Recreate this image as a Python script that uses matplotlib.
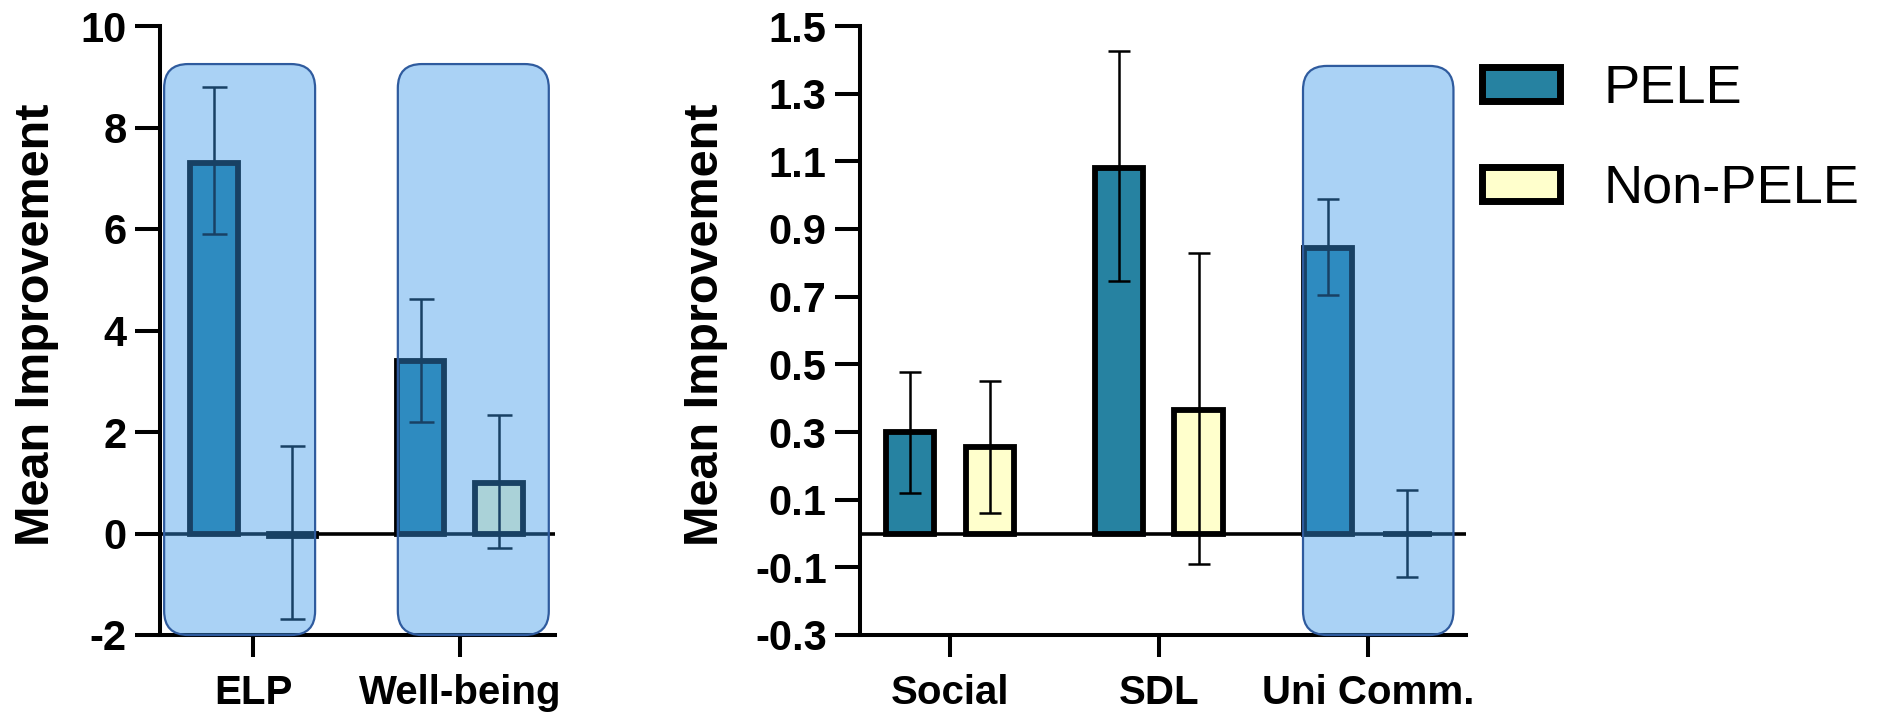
import numpy as np
import matplotlib
matplotlib.use("Agg")
import matplotlib.pyplot as plt
from matplotlib.patches import FancyBboxPatch, Patch

plt.rcParams["font.family"] = ["Liberation Sans", "DejaVu Sans"]

# data
left_groups = ["ELP", "Well-being"]
left_pele = [7.3, 3.4]
left_pele_lo = [5.9, 2.2]
left_pele_hi = [8.8, 4.62]
left_non = [-0.05, 1.0]
left_non_lo = [-1.68, -0.29]
left_non_hi = [1.72, 2.34]

right_groups = ["Social", "SDL", "Uni Comm."]
right_pele = [0.30, 1.08, 0.845]
right_pele_lo = [0.12, 0.745, 0.705]
right_pele_hi = [0.478, 1.425, 0.99]
right_non = [0.255, 0.365, 0.0]
right_non_lo = [0.06, -0.09, -0.13]
right_non_hi = [0.452, 0.83, 0.13]

left_yticks = [-2, 0, 2, 4, 6, 8, 10]
right_yticks = [-0.3, -0.1, 0.1, 0.3, 0.5, 0.7, 0.9, 1.1, 1.3, 1.5]

series_names = ["PELE", "Non-PELE"]

# styles
pele_color = "#2682A1"
non_color = "#FFFFCC"
hl_face = (0.227, 0.592, 0.914, 0.43)
hl_edge = "#2F5B9E"
bar_w = 0.23
offset = 0.19
spine_w = 2.9

fig = plt.figure(figsize=(18.8, 7.16), dpi=100)
ax1 = fig.add_axes([160 / 1880, 81 / 716, 395 / 1880, 609 / 716])
ax2 = fig.add_axes([860 / 1880, 81 / 716, 606 / 1880, 609 / 716])


def draw_panel(ax, groups, pele, plo, phi, non, nlo, nhi, xlim, yticks, boxes, box_top, cap):
    x = np.arange(len(groups))
    pele = np.array(pele)
    non = np.array(non)
    ax.axhline(0, color="black", lw=2.6, zorder=1)
    ax.bar(x - offset, pele, bar_w, color=pele_color, edgecolor="black", lw=4.2, zorder=2)
    ax.bar(x + offset, non, bar_w, color=non_color, edgecolor="black", lw=4.2, zorder=2)
    ax.errorbar(x - offset, pele, yerr=[pele - np.array(plo), np.array(phi) - pele],
                fmt="none", ecolor="black", elinewidth=1.8, capsize=cap, capthick=1.8, zorder=3)
    ax.errorbar(x + offset, non, yerr=[non - np.array(nlo), np.array(nhi) - non],
                fmt="none", ecolor="black", elinewidth=1.8, capsize=cap, capthick=1.8, zorder=3)

    ax.set_xlim(*xlim)
    ax.set_ylim(yticks[0], yticks[-1])
    ax.set_yticks(yticks)
    ax.set_yticklabels([f"{t:g}" for t in yticks])
    ax.set_xticks(x)
    ax.set_xticklabels(groups)
    for s in ["top", "right"]:
        ax.spines[s].set_visible(False)
    for s in ["left", "bottom"]:
        ax.spines[s].set_linewidth(spine_w)
    ax.tick_params(axis="y", length=18, width=spine_w, pad=6, labelsize=30)
    ax.tick_params(axis="x", length=16, width=spine_w, pad=12, labelsize=29)
    for lab in ax.get_xticklabels() + ax.get_yticklabels():
        lab.set_fontweight("bold")
    ax.set_ylabel("Mean Improvement", fontsize=35, fontweight="bold")

    # rounded highlight boxes (corner radius ~24 px)
    p0 = ax.transData.transform((0, 0))
    p1 = ax.transData.transform((1, 1))
    px_x = p1[0] - p0[0]
    px_y = p1[1] - p0[1]
    r = 24 / px_x
    for x0, x1 in boxes:
        box = FancyBboxPatch((x0, yticks[0]), x1 - x0, box_top - yticks[0],
                             boxstyle=f"round,pad=0,rounding_size={r}",
                             mutation_aspect=px_x / px_y,
                             facecolor=hl_face, edgecolor=hl_edge, lw=1.6,
                             zorder=5, clip_on=False)
        ax.add_patch(box)


draw_panel(ax1, left_groups, left_pele, left_pele_lo, left_pele_hi,
           left_non, left_non_lo, left_non_hi, (-0.45, 1.46), left_yticks,
           [(-0.43, 0.30), (0.70, 1.43)], 9.25, 9)
draw_panel(ax2, right_groups, right_pele, right_pele_lo, right_pele_hi,
           right_non, right_non_lo, right_non_hi, (-0.43, 2.47), right_yticks,
           [(1.69, 2.41)], 1.382, 8)

ax1.yaxis.set_label_coords(-0.255, 0.51)
ax2.yaxis.set_label_coords(-0.218, 0.51)

handles = [Patch(facecolor=pele_color, edgecolor="black", lw=5),
           Patch(facecolor=non_color, edgecolor="black", lw=5)]
fig.legend(handles, series_names, loc="upper left", bbox_to_anchor=(1482 / 1880, 1 - 64 / 716),
           frameon=False, fontsize=39, handlelength=1.44, handleheight=0.6,
           handletextpad=0.8, labelspacing=0.92, borderpad=0, borderaxespad=0)

fig.savefig("out.png", dpi=100)
